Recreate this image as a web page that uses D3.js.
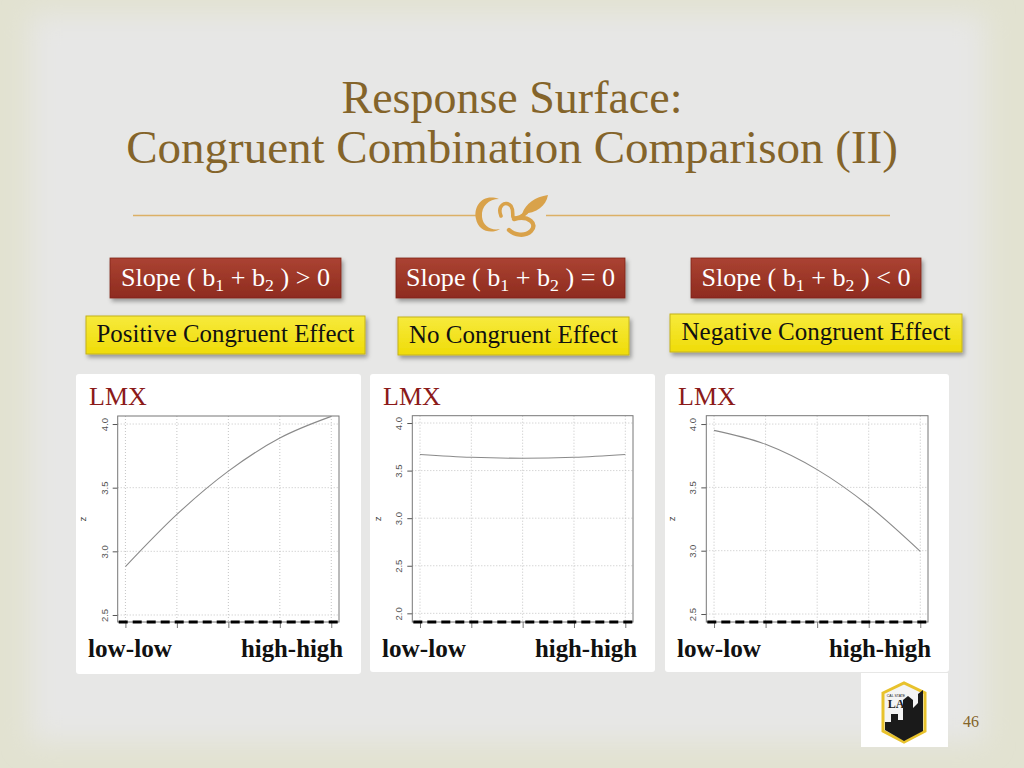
<!DOCTYPE html>
<html>
<head>
<meta charset="utf-8">
<script src="https://cdn.jsdelivr.net/npm/d3@7"></script>
<style>
  html, body { margin: 0; padding: 0; background: #e6e6e4; }
  svg { display: block; }
</style>
</head>
<body>
<svg id="chart" width="1024" height="768"></svg>
<script>
// ---- data ----
const xSteps = [0, 1, 2, 3, 4];               // low-low ... high-high
const xEndLabels = ["low-low", "high-high"];
const positiveZ = [2.88, 3.29, 3.63, 3.89, 4.06];
const flatZ = [3.67, 3.64, 3.63, 3.64, 3.67];
const negativeZ = [3.95, 3.84, 3.64, 3.355, 2.995];
const ticksPositive = [2.5, 3.0, 3.5, 4.0];
const ticksFlat = [2.0, 2.5, 3.0, 3.5, 4.0];
const ticksNegative = [2.5, 3.0, 3.5, 4.0];
const domainPositive = [2.445, 4.063];
const domainFlat = [1.909, 4.077];
const domainNegative = [2.437, 4.066];
const slopeSigns = [">", "=", "<"];
const effectLabels = ["Positive Congruent Effect", "No Congruent Effect", "Negative Congruent Effect"];
const titleLines = ["Response Surface:", "Congruent Combination Comparison (II)"];
const pageNumber = "46";

const svg = d3.select('#chart');
const serif = '"Liberation Serif", "Times New Roman", serif';
const sans = '"Liberation Sans", Arial, sans-serif';
const brown = '#84642a';
const gold = '#d9a24a';

// shrink/grow a text so it spans a given width
function fitWidth(sel, w) {
    const len = sel.node().getComputedTextLength();
    const fs = parseFloat(sel.attr('font-size'));
    sel.attr('font-size', (fs * w / len).toFixed(2));
}

// ---- defs ----
const defs = svg.append('defs');
const soft = defs.append('filter').attr('id', 'soft').attr('x', '-10%').attr('y', '-10%').attr('width', '120%').attr('height', '120%');
soft.append('feGaussianBlur').attr('stdDeviation', 14);

const shadow = defs.append('filter').attr('id', 'shadow').attr('x', '-10%').attr('y', '-30%').attr('width', '130%').attr('height', '170%');
shadow.append('feDropShadow').attr('dx', 2).attr('dy', 3).attr('stdDeviation', 2).attr('flood-color', '#000').attr('flood-opacity', 0.35);

const lineBlur = defs.append('filter').attr('id', 'lineBlur').attr('x', '-5%').attr('y', '-200%').attr('width', '110%').attr('height', '500%');
lineBlur.append('feGaussianBlur').attr('stdDeviation', 2);

const redGrad = defs.append('linearGradient').attr('id', 'redGrad').attr('x1', 0).attr('y1', 0).attr('x2', 0).attr('y2', 1);
redGrad.append('stop').attr('offset', '0%').attr('stop-color', '#ab4332');
redGrad.append('stop').attr('offset', '100%').attr('stop-color', '#8e2b1f');

const yellowGrad = defs.append('linearGradient').attr('id', 'yellowGrad').attr('x1', 0).attr('y1', 0).attr('x2', 0).attr('y2', 1);
yellowGrad.append('stop').attr('offset', '0%').attr('stop-color', '#f7ea3c');
yellowGrad.append('stop').attr('offset', '100%').attr('stop-color', '#efdc08');

// ---- background ----
svg.append('rect').attr('width', 1024).attr('height', 768).attr('fill', '#e2e2d1');
svg.append('rect')
    .attr('x', 30).attr('y', 14).attr('width', 955).attr('height', 728)
    .attr('fill', '#e7e7e6')
    .attr('filter', 'url(#soft)');

// ---- title ----
const titleBase = [113, 163];
const titleWidth = [341, 772];
titleLines.forEach((t, i) => {
    const tx = svg.append('text')
        .attr('x', 512).attr('y', titleBase[i])
        .attr('text-anchor', 'middle')
        .attr('font-family', serif)
        .attr('font-size', 44)
        .attr('fill', brown)
        .text(t);
    fitWidth(tx, titleWidth[i]);
});

// divider with ornament
svg.append('line').attr('x1', 133).attr('x2', 478).attr('y1', 215.5).attr('y2', 215.5).attr('stroke', '#dcb066').attr('stroke-width', 1.3);
svg.append('line').attr('x1', 546).attr('x2', 890).attr('y1', 215.5).attr('y2', 215.5).attr('stroke', '#dcb066').attr('stroke-width', 1.3);
const orn = svg.append('g').attr('fill', gold).attr('stroke', gold);
// crescent "C"
orn.append('path')
    .attr('stroke', 'none')
    .attr('d', 'M499,199 C483,193 473,206 476,219 C478,230 490,235 500,229 C491,231 483,226 482,217 C481,206 489,199 499,199 Z');
// curl + bowl + leaf
orn.append('path')
    .attr('fill', 'none').attr('stroke-width', 3.6).attr('stroke-linecap', 'round')
    .attr('d', 'M501,216 C497,206 505,200 511,206 C515,212 510,219 516,218 C522,217 526,214 529,209');
orn.append('path')
    .attr('fill', 'none').attr('stroke-width', 4.4).attr('stroke-linecap', 'round')
    .attr('d', 'M514,219 C529,215 538,224 531,231 C525,237 514,235 509,230');
orn.append('path')
    .attr('stroke', 'none')
    .attr('d', 'M522,214 C526,203 535,197 548,195 C546,206 537,213 522,214 Z');

// ---- slope boxes (red) ----
const slopeBoxes = [
    { x: 110, y: 258, w: 231, h: 40 },
    { x: 396, y: 258, w: 229, h: 40 },
    { x: 691, y: 258, w: 230, h: 40 }
];
slopeBoxes.forEach((b, i) => {
    svg.append('rect')
        .attr('x', b.x).attr('y', b.y).attr('width', b.w).attr('height', b.h)
        .attr('fill', 'url(#redGrad)')
        .attr('stroke', '#7f2519').attr('stroke-width', 0.8)
        .attr('filter', 'url(#shadow)');
    const t = svg.append('text')
        .attr('x', b.x + b.w / 2).attr('y', b.y + 28)
        .attr('text-anchor', 'middle')
        .attr('font-family', serif).attr('font-size', 23)
        .attr('fill', '#fff');
    t.append('tspan').text('Slope ( b');
    t.append('tspan').attr('font-size', '0.68em').attr('dy', 5).text('1');
    t.append('tspan').attr('dy', -5).text(' + b');
    t.append('tspan').attr('font-size', '0.68em').attr('dy', 5).text('2');
    t.append('tspan').attr('dy', -5).text(` ) ${slopeSigns[i]} 0`);
    fitWidth(t, 209);
});

// ---- effect boxes (yellow) ----
const effectBoxes = [
    { x: 86, y: 316, w: 279, h: 38, tw: 258 },
    { x: 398, y: 317, w: 231, h: 38, tw: 209 },
    { x: 670, y: 314, w: 292, h: 38, tw: 269 }
];
effectBoxes.forEach((b, i) => {
    svg.append('rect')
        .attr('x', b.x).attr('y', b.y).attr('width', b.w).attr('height', b.h)
        .attr('fill', 'url(#yellowGrad)')
        .attr('stroke', '#c4b21c').attr('stroke-width', 1)
        .attr('filter', 'url(#shadow)');
    const t = svg.append('text')
        .attr('x', b.x + b.w / 2).attr('y', b.y + 26)
        .attr('text-anchor', 'middle')
        .attr('font-family', serif).attr('font-size', 21)
        .attr('fill', '#111')
        .text(effectLabels[i]);
    fitWidth(t, b.tw);
});

// ---- the three R plots ----
const panels = [
    { box: [76, 374, 285, 300], frame: [117.7, 416, 339, 622], z: positiveZ, ticks: ticksPositive, domain: domainPositive },
    { box: [370, 374, 285, 298], frame: [412.3, 415.7, 633, 622], z: flatZ, ticks: ticksFlat, domain: domainFlat },
    { box: [665, 374, 284, 298], frame: [706.3, 415.7, 928, 622], z: negativeZ, ticks: ticksNegative, domain: domainNegative }
];

panels.forEach(p => {
    const [bx, by, bw, bh] = p.box;
    const [fx0, fy0, fx1, fy1] = p.frame;
    const g = svg.append('g');

    g.append('rect')
        .attr('x', bx).attr('y', by).attr('width', bw).attr('height', bh)
        .attr('rx', 3).attr('fill', '#fff');

    const x = d3.scaleLinear().domain([-0.15, 4.15]).range([fx0, fx1]);
    const y = d3.scaleLinear().domain(p.domain).range([fy1, fy0]);

    // dotted grid
    g.append('g').selectAll('line')
        .data(xSteps).join('line')
        .attr('x1', d => x(d)).attr('x2', d => x(d))
        .attr('y1', fy0).attr('y2', fy1)
        .attr('stroke', '#c4c4c4').attr('stroke-width', 1)
        .attr('stroke-dasharray', '1,2');
    g.append('g').selectAll('line')
        .data(p.ticks).join('line')
        .attr('x1', fx0).attr('x2', fx1)
        .attr('y1', d => y(d)).attr('y2', d => y(d))
        .attr('stroke', '#c4c4c4').attr('stroke-width', 1)
        .attr('stroke-dasharray', '1,2');

    // y axis: R-style, labels parallel to axis
    const yAxis = d3.axisLeft(y).tickValues(p.ticks).tickFormat(d3.format('.1f')).tickSize(5).tickSizeOuter(0);
    const ya = g.append('g').attr('transform', `translate(${fx0},0)`).call(yAxis);
    ya.select('.domain').remove();
    ya.selectAll('.tick line').attr('stroke', '#555');
    ya.selectAll('.tick text')
        .attr('font-family', sans).attr('font-size', 9.5).attr('fill', '#555')
        .attr('text-anchor', 'middle')
        .attr('transform', 'translate(-13.5,0) rotate(-90)')
        .attr('x', 0).attr('y', 0).attr('dy', '0.35em');

    // x axis ticks below the frame
    const xa = g.append('g').attr('transform', `translate(0,${fy1})`)
        .call(d3.axisBottom(x).tickValues(xSteps).tickFormat('').tickSize(6).tickSizeOuter(0));
    xa.select('.domain').remove();
    xa.selectAll('.tick line').attr('stroke', '#777');

    // frame
    g.append('rect')
        .attr('x', fx0).attr('y', fy0).attr('width', fx1 - fx0).attr('height', fy1 - fy0)
        .attr('fill', 'none').attr('stroke', '#777').attr('stroke-width', 1);

    // axis title
    g.append('text')
        .attr('transform', `translate(${fx0 - 35},${(fy0 + fy1) / 2}) rotate(-90)`)
        .attr('text-anchor', 'middle').attr('dy', '0.35em')
        .attr('font-family', sans).attr('font-size', 9.5).attr('fill', '#333')
        .text('z');

    // response curve
    const line = d3.line().x((d, i) => x(xSteps[i])).y(d => y(d)).curve(d3.curveMonotoneX);
    g.append('path')
        .datum(p.z)
        .attr('d', line)
        .attr('fill', 'none').attr('stroke', '#8a8a8a').attr('stroke-width', 1.1);

    // thick dashed base line with soft shadow
    g.append('line')
        .attr('x1', fx0 + 1).attr('x2', fx1).attr('y1', fy1 + 4).attr('y2', fy1 + 4)
        .attr('stroke', '#888').attr('stroke-width', 3)
        .attr('stroke-dasharray', '9,5').attr('filter', 'url(#lineBlur)');
    g.append('line')
        .attr('x1', fx0 + 1).attr('x2', fx1).attr('y1', fy1).attr('y2', fy1)
        .attr('stroke', '#000').attr('stroke-width', 3.2)
        .attr('stroke-dasharray', '9,5');

    // labels
    g.append('text')
        .attr('x', bx + 13).attr('y', by + 31)
        .attr('font-family', serif).attr('font-size', 26)
        .attr('fill', '#8b1a1a')
        .text('LMX');
    const lo = g.append('text')
        .attr('x', bx + 12).attr('y', by + 283)
        .attr('font-family', serif).attr('font-size', 22).attr('font-weight', 'bold')
        .attr('fill', '#111')
        .text(xEndLabels[0]);
    fitWidth(lo, 84);
    const hi = g.append('text')
        .attr('x', bx + bw - 18).attr('y', by + 283)
        .attr('text-anchor', 'end')
        .attr('font-family', serif).attr('font-size', 22).attr('font-weight', 'bold')
        .attr('fill', '#111')
        .text(xEndLabels[1]);
    fitWidth(hi, 102);
});

// ---- logo ----
const logo = svg.append('g');
logo.append('rect').attr('x', 861).attr('y', 673).attr('width', 87).attr('height', 74).attr('fill', '#fff');
logo.append('path')
    .attr('d', 'M883,693 L904,683 L925,693 L925,731 L904,742 L883,731 Z')
    .attr('fill', '#f4f4f4').attr('stroke', '#e8c22c').attr('stroke-width', 3);
logo.append('path')
    .attr('d', 'M885,730 L885,722 L891,722 L891,714 L898,714 L898,720 L903,720 L903,700 L908,696 L913,700 L913,708 L918,703 L918,694 L923,690 L923,731 L904,741 Z')
    .attr('fill', '#1a1a1a');
logo.append('text').attr('x', 896).attr('y', 708).attr('text-anchor', 'middle')
    .attr('font-family', serif).attr('font-size', 12).attr('font-weight', 'bold').attr('fill', '#222').text('LA');
logo.append('text').attr('x', 896).attr('y', 697).attr('text-anchor', 'middle')
    .attr('font-family', sans).attr('font-size', 3.5).attr('fill', '#222').text('CAL STATE');

// ---- page number ----
svg.append('text')
    .attr('x', 971).attr('y', 727).attr('text-anchor', 'middle')
    .attr('font-family', serif).attr('font-size', 16).attr('fill', brown)
    .text(pageNumber);
</script>
</body>
</html>
